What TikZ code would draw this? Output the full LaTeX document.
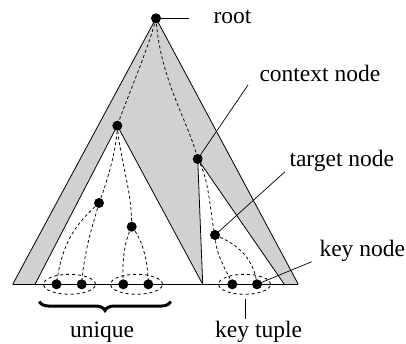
\documentclass[tikz,border=0pt]{standalone}
\usepackage{fontspec}
\setmainfont{Liberation Serif}
\usetikzlibrary{decorations.pathreplacing,shapes.geometric}
\begin{document}
\begin{tikzpicture}[x=1pt,y=-1pt,
  dotnode/.style={circle,fill=black,inner sep=0pt,minimum size=10pt},
  edge/.style={dash pattern=on 3pt off 2.5pt,line width=0.75pt},
  grp/.style={draw,ellipse,minimum width=52pt,minimum height=20pt,inner sep=0pt,dash pattern=on 3pt off 3pt,line width=0.85pt},
  lbl/.style={anchor=base west,inner sep=0pt,font=\fontsize{23.5}{28}\selectfont},
  tri/.style={line width=0.8pt},
  pointer/.style={line width=0.7pt}]
\useasboundingbox (0,0) rectangle (406,344);
% outer triangle
\coordinate (TL) at (12.7,284.3);
\coordinate (TR) at (298.3,284.3);
\coordinate (TA) at (156,18.3);
\fill[black!18] (TA) -- (TL) -- (TR) -- cycle;
\draw[tri] (TL) -- (TA) -- (TR);
% left subtree
\coordinate (LA) at (117.3,125.7);
\coordinate (LL) at (35,284.3);
\coordinate (LR) at (202.7,284.3);
\fill[white] (LA) -- (LL) -- (LR) -- cycle;
\draw[tri] (LL) -- (LA) -- (LR);
% right subtree
\coordinate (RA) at (197.7,159);
\coordinate (RL) at (202.7,284.3);
\coordinate (RR) at (284.3,284.3);
\fill[white] (RA) -- (RL) -- (RR) -- cycle;
\draw[tri] (RL) -- (RA) -- (RR);
% base line
\draw[tri] (TL) -- (TR);
% dots
\node[dotnode] (root) at (TA) {};
\node[dotnode] (n1) at (LA) {};
\node[dotnode] (ctx) at (RA) {};
\node[dotnode] (a) at (99,203) {};
\node[dotnode] (b) at (131.7,226.7) {};
\node[dotnode] (tgt) at (215,235) {};
\node[dotnode] (l1) at (56.5,284.3) {};
\node[dotnode] (l2) at (81.7,284.3) {};
\node[dotnode] (l3) at (123.3,284.3) {};
\node[dotnode] (l4) at (148.3,284.3) {};
\node[dotnode] (k1) at (232.3,284.3) {};
\node[dotnode] (k2) at (257,284.3) {};
% dashed edges
\draw[edge] (root.center) .. controls (148,50) and (128,95) .. (n1.center);
\draw[edge] (root.center) .. controls (160,80) and (188,120) .. (ctx.center);
\draw[edge] (n1.center) .. controls (117,150) and (106,185) .. (a.center);
\draw[edge] (n1.center) .. controls (120,160) and (132,190) .. (b.center);
\draw[edge] (a.center) .. controls (78,222) and (62,240) .. (l1.center);
\draw[edge] (a.center) .. controls (93,225) and (84,250) .. (l2.center);
\draw[edge] (b.center) .. controls (124,242) and (122,262) .. (l3.center);
\draw[edge] (b.center) .. controls (143,240) and (148,262) .. (l4.center);
\draw[edge] (ctx.center) .. controls (210,180) and (210,215) .. (tgt.center);
\draw[edge] (tgt.center) .. controls (216,258) and (228,272) .. (k1.center);
\draw[edge] (tgt.center) .. controls (240,245) and (254,260) .. (k2.center);
% groups
\node[grp] (g1) at (69.5,284.3) {};
\node[grp] (g2) at (136.5,284.3) {};
\node[grp] (g3) at (244.5,284.3) {};
% labels
\node[lbl] (troot) at (213.3,24) {root};
\node[lbl] (tctx) at (259.3,81.7) {context node};
\node[lbl] (ttgt) at (289.3,166.7) {target node};
\node[lbl] (tkey) at (319.3,256.7) {key node};
\node[lbl] (tuniq) at (70,337.5) {unique};
\node[lbl] (ttup) at (215,337.5) {key tuple};
% pointers
\coordinate (proot) at (189,18.3);
\coordinate (pctx) at (248,85);
\coordinate (ptgt) at (285,171.7);
\coordinate (pkey) at (311.7,261.7);
\coordinate (ptup1) at (245,298.5);
\coordinate (ptup2) at (245,319);
\draw[pointer] (root.center) -- (proot);
\draw[pointer] (ctx.center) -- (pctx);
\draw[pointer] (tgt.center) -- (ptgt);
\draw[pointer] (k2.center) -- (pkey);
\draw[pointer] (ptup1) -- (ptup2);
% brace
\coordinate (bL) at (39.3,301.5);
\coordinate (bR) at (170.7,301.5);
\draw[line width=3pt,decorate,decoration={brace,mirror,amplitude=9pt}] (bL) -- (bR);
\end{tikzpicture}
\end{document}
